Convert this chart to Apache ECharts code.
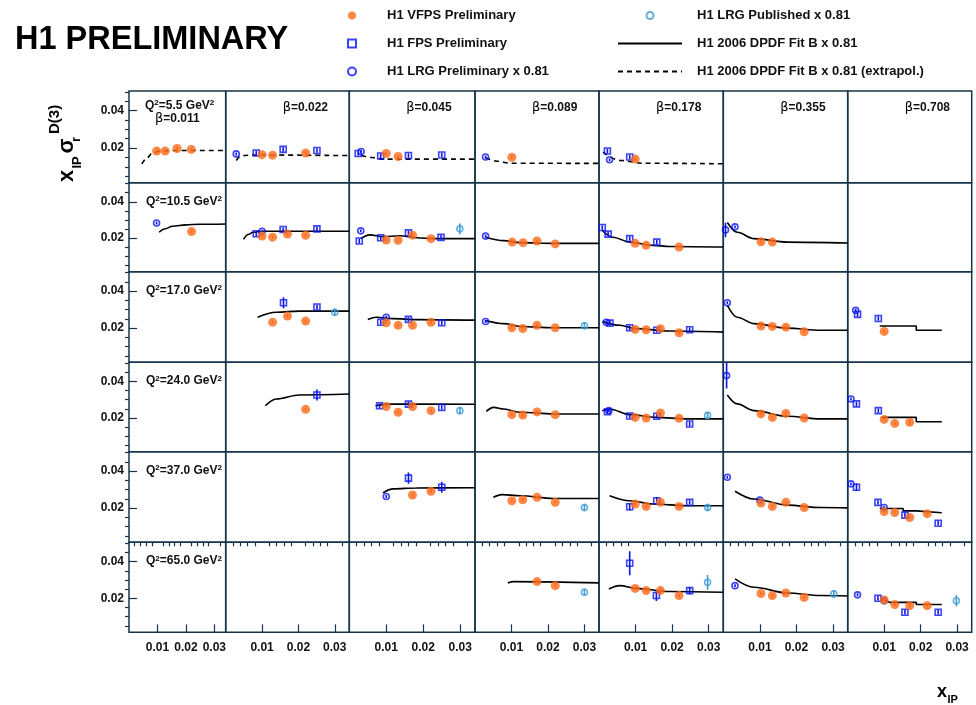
<!DOCTYPE html>
<html><head><meta charset="utf-8">
<script src="https://cdn.jsdelivr.net/npm/echarts@6/dist/echarts.min.js"></script>
<style>html,body{margin:0;padding:0;background:#fff}#c{width:976px;height:705px}</style>
</head><body><div id="c"></div>
<script>
// ---------------- data ----------------
const q2Values = ['5.5', '10.5', '17.0', '24.0', '37.0', '65.0'];
const betaValues = ['0.011', '0.022', '0.045', '0.089', '0.178', '0.355', '0.708'];
const xTickValues = [0.01, 0.02, 0.03];
const xMinorTickValues = [0.002, 0.004, 0.006, 0.008, 0.012, 0.014, 0.016, 0.018, 0.022, 0.024, 0.026, 0.028, 0.032];
const yTickValues = [0.02, 0.04];
const yMinorTickValues = [0.005, 0.01, 0.015, 0.025, 0.03, 0.035, 0.045, 0.05];

// [Q2 index, beta index, x_IP, x_IP*sigma_r, error]
const vfpsPoints = [
  [0,0,0.0097,0.0184],[0,0,0.0127,0.0184],[0,0,0.0169,0.0198],[0,0,0.0219,0.0193],
  [0,1,0.0100,0.0165],[0,1,0.0129,0.0162],[0,1,0.0220,0.0174],
  [0,2,0.0100,0.0171],[0,2,0.0132,0.0155],
  [0,3,0.0101,0.0151],
  [0,4,0.0099,0.0141],
  [1,0,0.0220,0.0236],
  [1,1,0.0100,0.0211],[1,1,0.0129,0.0205],[1,1,0.0170,0.0222],[1,1,0.0220,0.0215],
  [1,2,0.0100,0.0189],[1,2,0.0132,0.0188],[1,2,0.0171,0.0216],[1,2,0.0221,0.0197],
  [1,3,0.0102,0.0178],[1,3,0.0132,0.0175],[1,3,0.0170,0.0184],[1,3,0.0220,0.0168],
  [1,4,0.0099,0.0171],[1,4,0.0129,0.0160],[1,4,0.0219,0.0151],
  [1,5,0.0103,0.0180],[1,5,0.0134,0.0178],
  [2,1,0.0129,0.0232],[2,1,0.0170,0.0265],[2,1,0.0220,0.0238],
  [2,2,0.0100,0.0229],[2,2,0.0132,0.0215],[2,2,0.0171,0.0215],[2,2,0.0221,0.0231],
  [2,3,0.0101,0.0202],[2,3,0.0131,0.0198],[2,3,0.0170,0.0215],[2,3,0.0220,0.0202],
  [2,4,0.0099,0.0193],[2,4,0.0129,0.0191],[2,4,0.0168,0.0197],[2,4,0.0219,0.0175],
  [2,5,0.0103,0.0211],[2,5,0.0134,0.0209],[2,5,0.0171,0.0205,0.0015],[2,5,0.0221,0.0180],
  [2,6,0.0100,0.0182],
  [3,1,0.0220,0.0247],
  [3,2,0.0100,0.0263],[3,2,0.0132,0.0231],[3,2,0.0171,0.0263],[3,2,0.0221,0.0240],
  [3,3,0.0101,0.0218],[3,3,0.0131,0.0216],[3,3,0.0170,0.0233],[3,3,0.0220,0.0218],
  [3,4,0.0099,0.0203],[3,4,0.0129,0.0200],[3,4,0.0168,0.0227],[3,4,0.0219,0.0198],
  [3,5,0.0103,0.0222],[3,5,0.0134,0.0203],[3,5,0.0171,0.0225,0.0015],[3,5,0.0221,0.0200],
  [3,6,0.0100,0.0192],[3,6,0.0129,0.0170],[3,6,0.0170,0.0176,0.0015],
  [4,2,0.0171,0.0271],[4,2,0.0221,0.0291,0.0012],
  [4,3,0.0101,0.0240],[4,3,0.0131,0.0245],[4,3,0.0170,0.0258],[4,3,0.0220,0.0231],
  [4,4,0.0099,0.0222],[4,4,0.0129,0.0209],[4,4,0.0168,0.0231],[4,4,0.0219,0.0209],
  [4,5,0.0103,0.0227],[4,5,0.0134,0.0209],[4,5,0.0171,0.0231],[4,5,0.0221,0.0203],
  [4,6,0.0100,0.0181],[4,6,0.0129,0.0176],[4,6,0.0170,0.0149],[4,6,0.0218,0.0170],
  [5,3,0.0170,0.0291,0.0012],[5,3,0.0220,0.0269],
  [5,4,0.0099,0.0254,0.0012],[5,4,0.0129,0.0242],[5,4,0.0168,0.0242,0.0015],[5,4,0.0219,0.0215],
  [5,5,0.0103,0.0226],[5,5,0.0134,0.0215],[5,5,0.0171,0.0229],[5,5,0.0221,0.0205],
  [5,6,0.0100,0.0191,0.0012],[5,6,0.0129,0.0166],[5,6,0.0170,0.0160,0.0012],[5,6,0.0218,0.0160]
];
const fpsPoints = [
  [0,1,0.0084,0.0174],[0,1,0.0158,0.0193],[0,1,0.0251,0.0187],
  [0,2,0.0024,0.0171],[0,2,0.0085,0.0158],[0,2,0.0160,0.0160],[0,2,0.0250,0.0163],
  [0,4,0.0023,0.0184],[0,4,0.0084,0.0152],
  [1,1,0.0084,0.0224],[1,1,0.0158,0.0247],[1,1,0.0251,0.0251],
  [1,2,0.0027,0.0184],[1,2,0.0085,0.0202],[1,2,0.0160,0.0229],[1,2,0.0248,0.0204],
  [1,4,0.0009,0.0258],[1,4,0.0025,0.0222],[1,4,0.0084,0.0197],[1,4,0.0158,0.0178],
  [2,1,0.0159,0.0337,0.003],[2,1,0.0251,0.0314],
  [2,2,0.0085,0.0232],[2,2,0.0160,0.0247],[2,2,0.0250,0.0229],
  [2,4,0.0030,0.0227],[2,4,0.0084,0.0202],[2,4,0.0158,0.0188],[2,4,0.0248,0.0191],
  [2,6,0.0027,0.0274],[2,6,0.0084,0.0252],
  [3,1,0.0251,0.0326,0.003],
  [3,2,0.0082,0.0267],[3,2,0.0160,0.0276],[3,2,0.0250,0.0258],
  [3,4,0.0023,0.0234],[3,4,0.0084,0.0211],[3,4,0.0158,0.0209],[3,4,0.0248,0.0167],
  [3,6,0.0024,0.0277],[3,6,0.0084,0.0240],
  [4,2,0.0160,0.0362,0.003],[4,2,0.0250,0.0313,0.003],
  [4,4,0.0084,0.0207,0.002],[4,4,0.0158,0.0240,0.002],[4,4,0.0248,0.0231],
  [4,6,0.0024,0.0313,0.002],[4,6,0.0083,0.0231],[4,6,0.0157,0.0162],[4,6,0.0248,0.0118],
  [5,4,0.0084,0.0391,0.0065],[5,4,0.0157,0.0215,0.003],[5,4,0.0248,0.0242,0.002],
  [5,6,0.0083,0.0200],[5,6,0.0157,0.0124],[5,6,0.0248,0.0124]
];
const lrgPrelimPoints = [
  [0,1,0.0029,0.0169],[0,2,0.0032,0.0182],[0,3,0.0029,0.0152],[0,4,0.0029,0.0138],
  [1,0,0.0097,0.0283],[1,1,0.0100,0.0238],[1,2,0.0031,0.0240],[1,3,0.0029,0.0211],
  [1,5,0.0006,0.0245,0.004],[1,5,0.0032,0.0262],
  [2,2,0.0100,0.0259],[2,3,0.0029,0.0236],[2,4,0.0020,0.0231],[2,5,0.0011,0.0337],[2,6,0.0022,0.0296],
  [3,4,0.0027,0.0240],[3,5,0.0009,0.0432,0.007],[3,6,0.0009,0.0304],
  [4,2,0.0100,0.0263],[4,5,0.0011,0.0367],[4,5,0.0100,0.0244],[4,6,0.0009,0.0331],[4,6,0.0100,0.0203],
  [5,5,0.0032,0.0269],[5,6,0.0027,0.0219],[5,6,0.0100,0.0187]
];
const lrgPublishedPoints = [
  [1,2,0.0299,0.0251,0.003],
  [2,1,0.0300,0.0286,0.002],[2,3,0.0300,0.0213,0.002],
  [3,2,0.0299,0.0240,0.002],[3,4,0.0297,0.0214,0.002],
  [4,3,0.0300,0.0203,0.002],[4,4,0.0297,0.0203,0.002],
  [5,3,0.0300,0.0233,0.002],[5,4,0.0297,0.0287,0.004],[5,5,0.0302,0.0224,0.002],[5,6,0.0298,0.0187,0.003]
];
// [Q2 index, beta index, [[x_IP, value], ...]]
const fitCurvesExtrapol = [
  [0,0,[[0.0045,0.0116],[0.0065,0.0150],[0.0082,0.0174],[0.0110,0.0184],[0.0150,0.0187],[0.0340,0.0187]]],
  [0,1,[[0.0029,0.0134],[0.0043,0.0160],[0.0080,0.0163],[0.0340,0.0160]]],
  [0,2,[[0.0032,0.0160],[0.0060,0.0150],[0.0091,0.0141],[0.0340,0.0141]]],
  [0,3,[[0.0029,0.0149],[0.0060,0.0130],[0.0097,0.0119],[0.0340,0.0118]]],
  [0,4,[[0.0011,0.0178],[0.0057,0.0134],[0.0120,0.0119],[0.0340,0.0116]]]
];
const fitCurves = [
  [1,0,[[0.0106,0.0232],[0.0125,0.0250],[0.0153,0.0265],[0.0200,0.0273],[0.0247,0.0276],[0.0340,0.0278]]],
  [1,1,[[0.0049,0.0193],[0.0062,0.0220],[0.0075,0.0232],[0.0100,0.0238],[0.0340,0.0238]]],
  [1,2,[[0.0031,0.0197],[0.0055,0.0218],[0.0091,0.0208],[0.0137,0.0213],[0.0182,0.0202],[0.0230,0.0197],[0.0340,0.0197]]],
  [1,3,[[0.0029,0.0205],[0.0079,0.0186],[0.0124,0.0175],[0.0215,0.0171],[0.0340,0.0171]]],
  [1,4,[[0.0009,0.0242],[0.0038,0.0205],[0.0084,0.0178],[0.0148,0.0160],[0.0193,0.0154],[0.0340,0.0151]]],
  [1,5,[[0.0011,0.0286],[0.0038,0.0232],[0.0084,0.0197],[0.0175,0.0178],[0.0340,0.0173]]],
  [2,1,[[0.0088,0.0259],[0.0139,0.0286],[0.0202,0.0292],[0.0340,0.0292]]],
  [2,2,[[0.0050,0.0247],[0.0073,0.0259],[0.0118,0.0251],[0.0182,0.0246],[0.0340,0.0243]]],
  [2,3,[[0.0029,0.0241],[0.0079,0.0224],[0.0124,0.0209],[0.0215,0.0202],[0.0340,0.0202]]],
  [2,4,[[0.0009,0.0235],[0.0057,0.0215],[0.0102,0.0197],[0.0193,0.0184],[0.0340,0.0178]]],
  [2,5,[[0.0011,0.0323],[0.0038,0.0259],[0.0084,0.0224],[0.0175,0.0200],[0.0266,0.0188],[0.0340,0.0188]]],
  [2,6,[[0.0088,0.0211],[0.0188,0.0211],[0.0188,0.0188],[0.0258,0.0188]]],
  [3,1,[[0.0109,0.0267],[0.0139,0.0304],[0.0202,0.0326],[0.0340,0.0331]]],
  [3,2,[[0.0071,0.0267],[0.0100,0.0276],[0.0340,0.0275]]],
  [3,3,[[0.0031,0.0236],[0.0051,0.0258],[0.0079,0.0249],[0.0124,0.0231],[0.0215,0.0222],[0.0340,0.0222]]],
  [3,4,[[0.0009,0.0240],[0.0029,0.0249],[0.0084,0.0218],[0.0157,0.0203],[0.0239,0.0195],[0.0340,0.0195]]],
  [3,5,[[0.0011,0.0326],[0.0038,0.0277],[0.0084,0.0240],[0.0175,0.0209],[0.0266,0.0195],[0.0340,0.0195]]],
  [3,6,[[0.0093,0.0203],[0.0188,0.0203],[0.0188,0.0179],[0.0258,0.0179]]],
  [4,2,[[0.0091,0.0282],[0.0118,0.0304],[0.0182,0.0309],[0.0340,0.0310]]],
  [4,3,[[0.0050,0.0258],[0.0074,0.0273],[0.0124,0.0267],[0.0215,0.0252],[0.0340,0.0252]]],
  [4,4,[[0.0029,0.0267],[0.0084,0.0240],[0.0148,0.0222],[0.0239,0.0213],[0.0340,0.0213]]],
  [4,5,[[0.0032,0.0291],[0.0084,0.0249],[0.0175,0.0216],[0.0266,0.0203],[0.0340,0.0201]]],
  [4,6,[[0.0088,0.0198],[0.0152,0.0198],[0.0152,0.0185],[0.0188,0.0185],[0.0188,0.0175],[0.0258,0.0175]]],
  [5,3,[[0.0090,0.0284],[0.0106,0.0291],[0.0340,0.0284]]],
  [5,4,[[0.0027,0.0251],[0.0057,0.0269],[0.0102,0.0254],[0.0193,0.0237],[0.0340,0.0233]]],
  [5,5,[[0.0032,0.0306],[0.0084,0.0260],[0.0175,0.0229],[0.0266,0.0215],[0.0340,0.0213]]],
  [5,6,[[0.0093,0.0193],[0.0115,0.0178],[0.0188,0.0178],[0.0188,0.0166],[0.0258,0.0166]]]
];

// ---------------- layout & style ----------------
const FONT = '"Liberation Sans", Arial, Helvetica, sans-serif';
const FRAME = '#14344a';
const colL = [129, 225.7, 349.3, 475, 599, 723.3, 847.7];
const colR = [225.7, 349.3, 475, 599, 723.3, 847.7, 971.7];
const rowT = [91, 182.7, 271.7, 362.3, 451.7, 542.3];
const rowB = [182.7, 271.7, 362.3, 451.7, 542.3, 632.3];
const X_MIN = 0, X_MAX = 0.034, Y_MIN = 0.0015, Y_MAX = 0.0505;
const NCOL = 7, NROW = 6;

const NAME_VFPS = 'H1 VFPS Preliminary';
const NAME_FPS = 'H1 FPS Preliminary';
const NAME_LRGP = 'H1 LRG Preliminary x 0.81';
const NAME_LRGPUB = 'H1 LRG Published x 0.81';
const NAME_FIT = 'H1 2006 DPDF Fit B x 0.81';
const NAME_FITX = 'H1 2006 DPDF Fit B x 0.81 (extrapol.)';

const C_ORANGE = '#fc6a1a', C_BLUE = '#0a14f0', C_LBLUE = '#3d9bd6';
const SQUARE = 'path://M0,0L10,0L10,10L0,10Z';
const markerTypes = [
  {pts: lrgPublishedPoints, name: NAME_LRGPUB, symbol: 'circle', size: 6, color: C_LBLUE, open: true, defErr: 0.0012},
  {pts: lrgPrelimPoints, name: NAME_LRGP, symbol: 'circle', size: 6, color: C_BLUE, open: true, defErr: 0.0008},
  {pts: fpsPoints, name: NAME_FPS, symbol: SQUARE, size: 6, color: C_BLUE, open: true, defErr: 0.0012},
  {pts: vfpsPoints, name: NAME_VFPS, symbol: 'circle', size: 9, color: C_ORANGE, open: false, defErr: 0.0008}
];

const grids = [], xAxes = [], yAxes = [], series = [];
const tickStyle = {color: FRAME, width: 1.2};
const labelStyle = {fontSize: 12, fontWeight: 'bold', color: '#111', fontFamily: FONT};

for (let r = 0; r < NROW; r++) {
  for (let c = 0; c < NCOL; c++) {
    const g = r * NCOL + c;
    grids.push({left: colL[c], top: rowT[r], width: colR[c] - colL[c], height: rowB[r] - rowT[r],
      show: true, borderColor: FRAME, borderWidth: 1.5, backgroundColor: 'transparent'});
    const bottom = r === NROW - 1, left = c === 0;
    xAxes.push({gridIndex: g, type: 'value', min: X_MIN, max: X_MAX, axisLine: {show: false}, splitLine: {show: false},
      axisTick: {show: bottom, inside: true, length: 8, customValues: xTickValues, lineStyle: tickStyle},
      axisLabel: Object.assign({show: bottom, customValues: xTickValues, margin: 9, formatter: v => v.toFixed(2)}, labelStyle)});
    xAxes.push({gridIndex: g, type: 'value', min: X_MIN, max: X_MAX, axisLine: {show: false}, splitLine: {show: false},
      axisTick: {show: bottom, inside: true, length: 4, customValues: xMinorTickValues, lineStyle: tickStyle},
      axisLabel: {show: false}});
    yAxes.push({gridIndex: g, type: 'value', min: Y_MIN, max: Y_MAX, axisLine: {show: false}, splitLine: {show: false},
      axisTick: {show: left, inside: true, length: 8, customValues: yTickValues, lineStyle: tickStyle},
      axisLabel: Object.assign({show: left, customValues: yTickValues, margin: 5, formatter: v => v.toFixed(2)}, labelStyle)});
    yAxes.push({gridIndex: g, type: 'value', min: Y_MIN, max: Y_MAX, axisLine: {show: false}, splitLine: {show: false},
      axisTick: {show: left, inside: true, length: 4, customValues: yMinorTickValues, lineStyle: tickStyle},
      axisLabel: {show: false}});
  }
}
const gi = (r, c) => r * NCOL + c;

// fit curves
function addCurves(list, name, dashed) {
  list.forEach(([r, c, pts]) => {
    const g = gi(r, c);
    series.push({type: 'line', name, xAxisIndex: 2 * g, yAxisIndex: 2 * g, data: pts, symbol: 'none',
      smooth: c === 6 ? false : 0.35, smoothMonotone: 'x', clip: true, z: 2, silent: true,
      lineStyle: {color: '#000', width: 1.6, type: dashed ? [5, 4] : 'solid'}, itemStyle: {color: '#000'}});
  });
}
addCurves(fitCurvesExtrapol, NAME_FITX, true);
addCurves(fitCurves, NAME_FIT, false);

// error bars (one custom series per panel)
const errByPanel = {};
markerTypes.forEach(t => t.pts.forEach(p => {
  const g = gi(p[0], p[1]);
  (errByPanel[g] = errByPanel[g] || []).push([p[2], p[3], p[4] !== undefined ? p[4] : t.defErr, t.color]);
}));
Object.keys(errByPanel).forEach(k => {
  const g = +k;
  series.push({type: 'custom', xAxisIndex: 2 * g, yAxisIndex: 2 * g, z: 3, silent: true, clip: true,
    data: errByPanel[g], encode: {x: 0, y: 1},
    renderItem: (params, api) => {
      const x = api.value(0), y = api.value(1), e = api.value(2);
      const col = errByPanel[g][params.dataIndex][3];
      const p1 = api.coord([x, y - e]), p2 = api.coord([x, y + e]);
      return {type: 'line', shape: {x1: p1[0], y1: p1[1], x2: p2[0], y2: p2[1]}, style: {stroke: col, lineWidth: 1.6}};
    }});
});

// markers
markerTypes.forEach((t, ti) => {
  const byPanel = {};
  t.pts.forEach(p => { const g = gi(p[0], p[1]); (byPanel[g] = byPanel[g] || []).push([p[2], p[3]]); });
  Object.keys(byPanel).forEach(k => {
    const g = +k;
    series.push({type: 'scatter', name: t.name, xAxisIndex: 2 * g, yAxisIndex: 2 * g, data: byPanel[g],
      symbol: t.symbol, symbolSize: t.size, symbolKeepAspect: true, z: 4 + ti, silent: true, clip: true,
      itemStyle: t.open ? {color: 'rgba(255,255,255,0)', borderColor: t.color, borderWidth: 1.6}
                        : {color: t.color, borderWidth: 0}});
  });
});

// ---------------- texts ----------------
const graphics = [];
graphics.push({type: 'text', x: 15, y: 40, style: {text: 'H1 PRELIMINARY', font: 'bold 32.5px ' + FONT, fill: '#000', verticalAlign: 'middle'}});
const rich = {
  b: {fontSize: 12, fontWeight: 'bold', fontFamily: FONT, fill: '#111', color: '#111'},
  s: {fontSize: 8, fontWeight: 'bold', fontFamily: FONT, verticalAlign: 'top', color: '#111', padding: [0, 0, 5, 0]},
  g: {fontSize: 13, fontWeight: 'normal', fontFamily: '"DejaVu Sans", sans-serif', color: '#111'}
};
q2Values.forEach((q, r) => {
  const y = r === 0 ? 105.5 : rowT[r] + 18.5;
  graphics.push({type: 'text', x: r === 0 ? 145 : 146, y, style: {text: '{b|Q}{s|2}{b|=' + q + ' GeV}{s|2}', rich, verticalAlign: 'middle'}});
});
betaValues.forEach((b, c) => {
  if (c === 0) {
    graphics.push({type: 'text', x: 155, y: 118.5, style: {text: '{g|β}{b|=' + b + '}', rich, verticalAlign: 'middle'}});
  } else {
    graphics.push({type: 'text', x: colL[c] + 57, y: 108, style: {text: '{g|β}{b|=' + b + '}', rich, verticalAlign: 'middle'}});
  }
});
// y-axis title (rotated)
const rot = Math.PI / 2;
const yTitle = [
  ['x', 22, 66.5, 182], ['IP', 13, 77, 168.5], ['σ', 22, 66.5, 153.5], ['r', 13, 76.5, 142], ['D(3)', 15, 55, 134]
];
yTitle.forEach(([t, fs, x, y]) => graphics.push({type: 'text', x, y, rotation: rot,
  style: {text: t, font: 'bold ' + fs + 'px ' + FONT, fill: '#000', verticalAlign: 'middle', align: 'left'}}));
// x-axis title
graphics.push({type: 'text', x: 937, y: 692, style: {text: 'x', font: 'bold 18px ' + FONT, fill: '#000', verticalAlign: 'middle'}});
graphics.push({type: 'text', x: 947.5, y: 699.5, style: {text: 'IP', font: 'bold 11px ' + FONT, fill: '#000', verticalAlign: 'middle'}});

const legendText = {fontSize: 13, fontWeight: 'bold', fontFamily: FONT, color: '#111'};
const hiddenSymbol = {opacity: 0};
const option = {
  animation: false,
  backgroundColor: '#fff',
  grid: grids, xAxis: xAxes, yAxis: yAxes, series,
  graphic: graphics,
  legend: [
    {left: 342, top: 4, orient: 'vertical', itemWidth: 60, itemHeight: 8, itemGap: 15, selectedMode: false,
      data: [NAME_VFPS, {name: NAME_FPS, icon: SQUARE}, NAME_LRGP], textStyle: legendText},
    {left: 612, top: 4, orient: 'vertical', itemWidth: 64, itemHeight: 7, itemGap: 15, selectedMode: false,
      data: [NAME_LRGPUB, {name: NAME_FIT, itemStyle: hiddenSymbol}, {name: NAME_FITX, itemStyle: hiddenSymbol}],
      textStyle: Object.assign({padding: [0, 0, 0, 10]}, legendText)}
  ]
};
const chart = echarts.init(document.getElementById('c'), null, {renderer: 'canvas'});
chart.setOption(option);
</script></body></html>
